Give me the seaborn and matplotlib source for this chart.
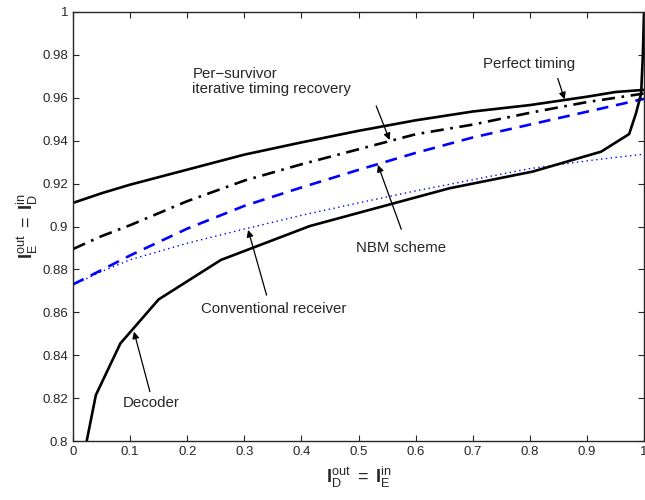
import matplotlib
matplotlib.use("Agg")
import matplotlib.pyplot as plt
import seaborn as sns

# EXIT chart curves
x_grid = [0.0, 0.05, 0.1, 0.2, 0.3, 0.4, 0.5, 0.6, 0.7, 0.8, 0.9, 0.95, 1.0]
perfect_timing = [0.911, 0.9155, 0.9195, 0.9265, 0.9335, 0.9392, 0.9446, 0.9495, 0.9536, 0.9566, 0.9605, 0.9627, 0.9637]
per_survivor = [0.8895, 0.8955, 0.9006, 0.9118, 0.9214, 0.929, 0.936, 0.943, 0.9475, 0.953, 0.958, 0.960, 0.962]
nbm_scheme = [0.873, 0.8797, 0.8865, 0.899, 0.9096, 0.9182, 0.9264, 0.9343, 0.9415, 0.9475, 0.9535, 0.9565, 0.9595]
conventional = [0.8727, 0.879, 0.8845, 0.8922, 0.8988, 0.9052, 0.911, 0.9166, 0.9218, 0.927, 0.9306, 0.9322, 0.9337]

# decoder curve (plotted with swapped axes)
decoder_x = [0.024, 0.040, 0.083, 0.150, 0.259, 0.4146, 0.659, 0.805, 0.925, 0.974, 0.986, 0.995, 0.998, 1.0]
decoder_y = [0.800, 0.8214, 0.8455, 0.866, 0.8844, 0.9002, 0.9178, 0.9256, 0.9349, 0.9431, 0.9528, 0.962, 0.98, 1.0]

x_ticks = [0, 0.1, 0.2, 0.3, 0.4, 0.5, 0.6, 0.7, 0.8, 0.9, 1]
y_ticks = [0.8, 0.82, 0.84, 0.86, 0.88, 0.9, 0.92, 0.94, 0.96, 0.98, 1]

sns.set_style("ticks")
plt.rcParams['font.family'] = ['Liberation Sans', 'DejaVu Sans']
plt.rcParams['mathtext.fontset'] = 'custom'
plt.rcParams['mathtext.rm'] = 'Liberation Sans'
plt.rcParams['mathtext.bf'] = 'Liberation Sans:bold'
plt.rcParams['mathtext.it'] = 'Liberation Sans:italic'

fig = plt.figure(figsize=(6.45, 5.0), dpi=100)
ax = fig.add_axes([73 / 645, 59 / 500, 571 / 645, 429 / 500])

sns.lineplot(x=x_grid, y=perfect_timing, ax=ax, color='black', lw=1.9, sort=False, estimator=None)
sns.lineplot(x=x_grid, y=per_survivor, ax=ax, color='black', lw=1.9, sort=False, estimator=None,
             linestyle=(0, (5, 2.5, 1, 2.5)))
sns.lineplot(x=x_grid, y=nbm_scheme, ax=ax, color='blue', lw=1.9, sort=False, estimator=None,
             linestyle=(0, (4.5, 3)))
sns.lineplot(x=x_grid, y=conventional, ax=ax, color='blue', lw=1.0, sort=False, estimator=None,
             linestyle=(0, (1, 2.5)))
sns.lineplot(x=decoder_x, y=decoder_y, ax=ax, color='black', lw=1.9, sort=False, estimator=None)

ax.set_xlim(0, 1)
ax.set_ylim(0.8, 1)
ax.set_xticks(x_ticks)
ax.set_yticks(y_ticks)
ax.set_xticklabels([f'{t:g}' for t in x_ticks])
ax.set_yticklabels([f'{t:g}' for t in y_ticks])
ax.tick_params(direction='in', top=True, right=True, labelsize=9.5, length=4, width=0.8)
for s in ax.spines.values():
    s.set_visible(True)
    s.set_linewidth(1.0)

ax.set_xlabel(r'$\mathbf{I}_{\mathrm{D}}^{\mathrm{out}}\ =\ \mathbf{I}_{\mathrm{E}}^{\mathrm{in}}$', fontsize=13, labelpad=5)
ax.set_ylabel(r'$\mathbf{I}_{\mathrm{E}}^{\mathrm{out}}\ =\ \mathbf{I}_{\mathrm{D}}^{\mathrm{in}}$', fontsize=13, labelpad=2)

# annotation labels
fs = 10.8
ax.text(0.209, 0.9676, 'Per\u2212survivor\niterative timing recovery', fontsize=fs, ha='left', va='center',
        linespacing=1.15)
ax.text(0.718, 0.9758, 'Perfect timing', fontsize=fs, ha='left', va='center')
ax.text(0.495, 0.8898, 'NBM scheme', fontsize=fs, ha='left', va='center')
ax.text(0.225, 0.8614, 'Conventional receiver', fontsize=fs, ha='left', va='center')
ax.text(0.087, 0.8176, 'Decoder', fontsize=fs, ha='left', va='center')

# arrows
arrow = dict(arrowstyle='-|>', color='black', lw=0.9, mutation_scale=10, shrinkA=0, shrinkB=0)
ax.annotate('', xy=(0.5545, 0.9403), xytext=(0.531, 0.9562), arrowprops=arrow)
ax.annotate('', xy=(0.861, 0.9593), xytext=(0.849, 0.969), arrowprops=arrow)
ax.annotate('', xy=(0.534, 0.9287), xytext=(0.575, 0.8987), arrowprops=arrow)
ax.annotate('', xy=(0.3067, 0.8984), xytext=(0.339, 0.868), arrowprops=arrow)
ax.annotate('', xy=(0.1067, 0.851), xytext=(0.1347, 0.823), arrowprops=arrow)

fig.savefig('out.png', dpi=100)
